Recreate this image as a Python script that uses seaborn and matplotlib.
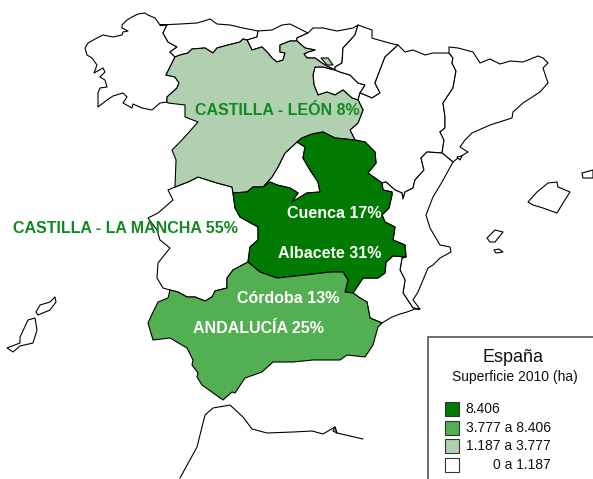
import matplotlib
matplotlib.use("Agg")
import matplotlib.pyplot as plt
import seaborn as sns
from matplotlib.patches import Rectangle

sns.set_theme(style="white")
plt.rcParams['font.family'] = ['Liberation Sans', 'DejaVu Sans']

# colores de la leyenda
dark = "#007A00"
mid = "#52AF52"
light = "#B0D0B0"
blank = "#FFFFFF"

# tramos de frontera (en pixeles)
gal_costa = [(160,25),(155,18),(148,15),(145,13),(138,14),(132,17),(127,20),(122,25),(122,28),(128,31),(123,32),(122,35),(113,37),(103,35),(97,38),(88,43),(85,48),(87,55),(92,58),(97,65),(94,73),(103,68),(105,72),(100,77),(105,80),(107,87),(100,88),(98,93),(98,107),(107,100),(113,96),(123,93),(127,97),(123,103),(132,108),(133,104),(142,108),(152,110),(160,103),(167,102)]
gal_ast = [(160,25),(167,25),(163,33),(168,42),(177,47),(170,52),(175,57)]
gal_cyl = [(175,57),(172,63),(166,75),(175,77),(179,83),(177,88),(167,97),(167,102)]
ast_costa = [(160,25),(180,24),(197,23),(204,21),(210,19),(217,24),(230,25),(243,28),(258,31)]
ast_can = [(258,31),(257,37),(247,40)]
ast_cyl = [(175,57),(180,55),(188,53),(192,49),(205,48),(213,53),(217,48),(228,45),(240,42),(243,39),(247,40)]
can_costa = [(258,31),(272,30),(282,25),(290,24),(298,28),(308,33)]
can_cyl = [(247,40),(252,50),(262,47),(268,53),(272,58),(277,62),(283,60),(285,53),(280,52),(280,45),(290,41),(297,41)]
can_pv = [(308,33),(297,38),(297,41)]
pv_costa = [(308,33),(313,28),(323,28),(337,31),(353,28),(358,25)]
pv_nav = [(358,25),(355,35),(343,48),(342,63),(335,67),(335,70)]
pv_cyl = [(297,41),(305,48),(315,50),(308,52),(304,54),(307,58),(315,58),(322,63),(327,66),(335,70)]
rio_nav = [(335,70),(340,72),(350,75),(358,83),(365,85),(360,93)]
rio_ara = [(360,93),(358,100)]
rio_cyl = [(335,70),(323,67),(315,67),(313,75),(314,85),(318,95),(327,92),(335,95),(343,90),(352,98),(358,100)]
nav_norte = [(358,25),(372,30),(372,38),(375,39),(393,44),(398,45)]
nav_ara = [(398,45),(385,57),(380,70),(375,83),(380,93),(372,98),(365,95),(360,93)]
ara_norte = [(398,45),(405,52),(413,50),(425,55),(433,53),(449,53)]
cat_ara = [(449,53),(453,58),(452,63),(456,71),(453,88),(443,103),(445,117),(445,128),(440,132),(444,140),(442,153)]
cat_costa = [(449,53),(449,47),(458,48),(473,52),(480,63),(490,59),(500,64),(510,61),(523,62),(538,56),(543,58),(548,63),(543,68),(548,83),(540,92),(523,103),(513,112),(512,118),(490,125),(472,133),(465,140),(460,147),(468,152),(458,158),(453,162)]
cat_val = [(453,162),(442,153)]
ara_val = [(382,183),(386,182),(395,190),(402,193),(403,199),(405,192),(413,188),(415,180),(424,170),(421,158),(427,152),(442,153)]
cyl_ara = [(358,100),(363,110),(358,123),(350,130),(355,140)]
ara_clm = [(355,140),(365,142),(375,152),(376,163),(368,173),(382,183)]
clm_val = [(382,183),(383,190),(392,192),(392,195),(389,208),(382,215),(385,222),(395,227),(393,240),(405,245),(406,257)]
clm_mur = [(406,257),(393,256),(386,262),(385,273),(378,278),(363,278),(353,293)]
clm_and = [(353,293),(345,292),(348,280),(343,272),(330,272),(305,275),(277,278),(260,272),(248,262)]
clm_ext = [(248,262),(250,247),(258,240),(258,227),(240,217),(235,208),(233,193)]
cyl_clm = [(263,187),(253,187),(247,192),(233,193)]
cyl_clm_top = [(355,140),(335,138),(323,132),(312,134),(302,138),(297,142)]
mad_clm = [(297,142),(305,147),(303,158),(310,170),(318,182),(320,192),(307,193),(292,202),(298,193),(290,188),(277,185),(270,182),(263,187)]
cyl_mad = [(297,142),(285,153),(278,167),(272,177),(263,187)]
ext_cyl = [(233,193),(232,187),(217,183),(198,177),(188,182),(175,187)]
cyl_por = [(175,187),(176,160),(172,150),(182,140),(198,122),(185,117),(185,105),(168,103),(167,102)]
ext_and = [(248,262),(233,270),(227,278),(227,288),(215,291),(212,297),(205,301),(195,297),(187,297),(178,292),(170,290)]
ext_por = [(170,290),(163,288),(157,278),(158,263),(170,248),(160,240),(157,230),(148,218),(158,213),(173,200),(168,190),(175,187)]
and_costa = [(170,290),(168,298),(158,302),(153,312),(148,323),(153,340),(170,338),(187,348),(193,360),(192,365),(198,373),(197,377),(202,385),(223,400),(232,392),(235,393),(245,378),(262,372),(273,362),(293,362),(313,360),(340,360),(347,355),(365,357),(373,345),(378,327),(382,323)]
and_mur = [(382,323),(370,318),(367,302),(360,298),(353,293)]
mur_costa = [(382,323),(392,317),(400,314),(407,312),(415,309),(420,309)]
mur_val = [(420,309),(413,308),(403,293),(405,280),(400,270),(402,258),(406,257)]
val_costa = [(453,162),(442,182),(433,197),(426,215),(430,228),(440,245),(450,247),(451,252),(440,258),(433,265),(428,268),(423,280),(418,292),(413,300),(420,309)]

# islas y enclaves
trevino = [(321,58),(328,58),(333,65),(327,65)]
mallorca = [(528,202),(537,192),(548,183),(557,182),(558,187),(570,192),(563,203),(557,213),(543,208),(533,205)]
menorca = [(582,173),(593,170),(593,178),(583,178)]
ibiza = [(487,238),(495,230),(503,232),(495,242),(490,242)]
formentera = [(494,250),(499,249),(503,252),(496,253)]
delta = [(457,157),(462,156),(460,160)]
lanzarote = [(36,312),(40,305),(50,302),(55,297),(56,302),(50,310),(38,315)]
fuerteventura = [(7,348),(20,343),(20,337),(28,320),(35,318),(37,330),(33,343),(20,346),(13,352)]
melilla = [(335,427),(337,433),(333,431)]
marruecos_x = [180,197,205,213,230,243,252,267,293,312,323,335,337,363]
marruecos_y = [478,447,415,408,405,417,429,433,432,431,434,427,433,439]

etiquetas = ["CASTILLA - LEÓN 8%", "CASTILLA - LA MANCHA 55%", "Cuenca 17%",
             "Albacete 31%", "Córdoba 13%", "ANDALUCÍA 25%"]
etiqueta_x = [277.5, 125, 334, 329.5, 288, 258.5]
etiqueta_y = [110.5, 228.5, 213.5, 253.5, 298.5, 328.5]
etiqueta_color = ["#108A20", "#108A20", "white", "white", "white", "white"]

leyenda_txt = ["8.406", "3.777 a 8.406", "1.187 a 3.777", "0 a 1.187"]
leyenda_col = [dark, mid, light, blank]
leyenda_y = [409, 427.5, 446, 465]


def ruta(*tramos):
    puntos = []
    for t in tramos:
        puntos += t
    return puntos


regiones = [
    (ruta(gal_costa, gal_cyl[::-1], gal_ast[::-1]), blank),
    (ruta(ast_costa, ast_can, ast_cyl[::-1], gal_ast[::-1]), blank),
    (ruta(can_costa, can_pv, can_cyl[::-1], ast_can[::-1]), blank),
    (ruta(pv_costa, pv_nav, pv_cyl[::-1], can_pv[::-1]), blank),
    (ruta(rio_nav, rio_ara, rio_cyl[::-1]), blank),
    (ruta(nav_norte, nav_ara, rio_nav[::-1], pv_nav[::-1]), blank),
    (ruta(ara_norte, cat_ara, ara_val[::-1], ara_clm[::-1], cyl_ara[::-1], rio_ara[::-1], nav_ara[::-1]), blank),
    (ruta(cat_costa, cat_val, cat_ara[::-1]), blank),
    (ruta(cat_val[::-1], val_costa, mur_val, clm_val[::-1], ara_val), blank),
    (ruta(mur_costa, mur_val, clm_mur, and_mur[::-1]), blank),
    (ruta(mad_clm, cyl_mad[::-1]), blank),
    (ruta(ext_cyl[::-1], clm_ext[::-1], ext_and, ext_por), blank),
    (mallorca, blank), (menorca, blank), (ibiza, blank), (formentera, blank),
    (delta, blank), (lanzarote, blank), (fuerteventura, blank),
    (ruta(ast_cyl, can_cyl, pv_cyl, rio_cyl, cyl_ara, cyl_clm_top, cyl_mad, cyl_clm, ext_cyl, cyl_por, gal_cyl[::-1]), light),
    (trevino, light), (melilla, light),
    (ruta(ara_clm, clm_val, clm_mur, clm_and, clm_ext, cyl_clm[::-1], mad_clm[::-1], cyl_clm_top[::-1]), dark),
    (ruta(ext_and, and_costa, and_mur, clm_and), mid),
]

fig, ax = plt.subplots(figsize=(5.93, 4.79), dpi=100)
fig.subplots_adjust(0, 0, 1, 1)

for puntos, color in regiones:
    xs, ys = zip(*puntos)
    ax.fill(xs, ys, facecolor=color, edgecolor="black", linewidth=0.8, joinstyle="round")

sns.lineplot(x=marruecos_x, y=marruecos_y, sort=False, estimator=None, color="black", linewidth=0.8, ax=ax)

for txt, x, y, c in zip(etiquetas, etiqueta_x, etiqueta_y, etiqueta_color):
    ax.text(x, y, txt, color=c, fontsize=11.5, fontweight="bold", ha="center", va="center")

# leyenda
ax.add_patch(Rectangle((428, 337), 170, 150, facecolor="white", edgecolor="#555555", linewidth=1.2))
ax.text(513, 357, "España", fontsize=13, color="#111111", ha="center", va="center")
ax.text(515, 377, "Superficie 2010 (ha)", fontsize=10, color="#111111", ha="center", va="center")
for txt, c, y in zip(leyenda_txt, leyenda_col, leyenda_y):
    ax.add_patch(Rectangle((444.5, y - 7), 14, 14, facecolor=c, edgecolor="#333333", linewidth=0.8))
    if txt == leyenda_txt[0]:
        ax.text(465, y, txt, fontsize=10, color="#111111", ha="left", va="center")
    else:
        ax.text(551, y, txt, fontsize=10, color="#111111", ha="right", va="center")

ax.set_xlim(0, 593)
ax.set_ylim(479, 0)
ax.axis("off")
fig.savefig("out.png", dpi=100)
